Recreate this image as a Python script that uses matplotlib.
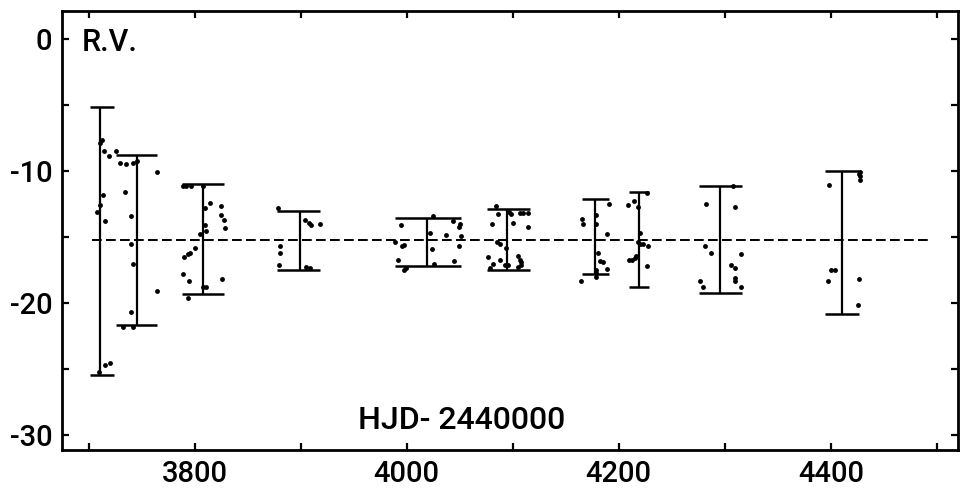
import matplotlib
matplotlib.use("Agg")
import matplotlib.pyplot as plt
from matplotlib.ticker import MultipleLocator

plt.rcParams['font.family'] = ['Roboto', 'DejaVu Sans']
plt.rcParams['font.weight'] = 'medium'
plt.rcParams['axes.unicode_minus'] = False

# error bars (time, top, bottom, cap extent)
bar_t = [3711, 3745.6, 3808, 3899, 4019.5, 4094.7, 4178, 4219, 4295.3, 4411]
bar_top = [-5.13, -8.79, -11.0, -13.03, -13.58, -12.88, -12.12, -11.57, -11.14, -10.0]
bar_bot = [-25.45, -21.67, -19.27, -17.5, -17.2, -17.45, -17.8, -18.79, -19.2, -20.83]
cap_left = [3701, 3726, 3788, 3878, 3989, 4075.5, 4165, 4209.4, 4275.5, 4395]
cap_right = [3724.5, 3765, 3828, 3918, 4051, 4116, 4190.5, 4228.3, 4316, 4426.4]

# individual radial velocity measurements
dot_t = [
    3710.4, 3712.6, 3715, 3719, 3725.5, 3730, 3735, 3742, 3746, 3765, 3734.6, 3713.5,
    3710.4, 3707.8, 3740, 3716, 3740, 3741.8, 3765, 3740, 3732.4, 3741.8, 3716, 3720, 3710,
    3789, 3792, 3797, 3808, 3815, 3810, 3825, 3824.5, 3828, 3829, 3810, 3811, 3804.7,
    3800.6, 3796, 3793.7, 3790, 3789, 3795, 3825.8, 3808, 3811, 3794,
    3879, 3904, 3909.6, 3907.5, 3918.6, 3881, 3881, 3880, 3905, 3908.5,
    3995, 4024.8, 4043.7, 4050, 4049, 4021.7, 4037.4, 4051, 3988.7, 3998, 3996, 4024,
    4049, 3991.8, 4025.8, 4044.6, 3997.5, 3999.7,
    4084.6, 4086, 4097, 4098.8, 4106.6, 4109.7, 4114.5, 4080.5, 4100, 4114.5, 4085.5,
    4087.7, 4094, 4076.7, 4087.7, 4105, 4106.6, 4108, 4081.4, 4093, 4096, 4079, 4105, 4108,
    4190.9, 4179, 4165.8, 4166.4, 4179, 4189, 4180.5, 4182, 4185.6, 4189, 4179, 4178.3,
    4179, 4164.8,
    4226.7, 4208.8, 4214, 4218, 4219.8, 4218, 4220, 4223, 4227.7, 4216.7, 4215, 4209.7,
    4213, 4226.7,
    4308, 4282, 4310, 4281, 4287.4, 4315.7, 4306.3, 4310, 4309.4, 4310, 4276.4, 4279.5, 4315.7,
    4427.4, 4427.4, 4427.4, 4427, 4398, 4400.6, 4404.4, 4397, 4426.4, 4425.8,
]
dot_v = [
    -7.9, -7.65, -8.48, -8.84, -8.46, -9.37, -9.47, -9.37, -9.24, -10.05, -11.57, -11.8,
    -12.6, -13.1, -13.4, -13.8, -15.5, -17.0, -19.1, -20.7, -21.8, -21.8, -24.7, -24.5, -25.2,
    -11.1, -11.1, -11.1, -11.1, -12.4, -12.8, -12.65, -13.3, -13.7, -14.3, -14.1, -14.5, -14.8,
    -15.8, -16.2, -16.3, -16.5, -17.8, -18.3, -18.2, -18.75, -18.75, -19.6,
    -12.8, -13.7, -14.1, -13.9, -14.0, -15.7, -16.2, -17.1, -17.25, -17.3,
    -14.1, -13.4, -13.8, -14.0, -14.2, -14.7, -14.85, -14.9, -15.4, -15.6, -15.7, -15.9,
    -15.7, -16.7, -17.0, -16.8, -17.45, -17.3,
    -12.65, -13.25, -13.1, -13.25, -13.15, -13.15, -13.15, -14.0, -13.9, -14.2, -15.4,
    -15.5, -15.85, -16.5, -16.7, -16.4, -16.75, -16.9, -17.0, -17.1, -17.1, -17.3, -17.25, -17.1,
    -12.5, -13.3, -13.65, -14.0, -14.0, -14.8, -16.2, -16.8, -16.9, -17.4, -17.45, -17.75,
    -18.0, -18.3,
    -11.7, -12.6, -12.3, -12.7, -14.7, -15.35, -15.5, -15.5, -15.7, -16.4, -16.55, -16.7,
    -16.7, -17.2,
    -11.1, -12.5, -12.7, -15.7, -16.2, -16.3, -17.1, -17.3, -18.1, -18.3, -18.3, -18.8, -18.75,
    -10.05, -10.4, -10.7, -10.25, -11.06, -17.45, -17.5, -18.3, -18.2, -20.1,
]

mean_rv = -15.2
mean_span = [3703, 4492]

x_major = [3800, 4000, 4200, 4400]
y_major = [0, -10, -20, -30]

fig = plt.figure(figsize=(9.61, 4.88), dpi=100)
ax = fig.add_axes([62 / 961, 38 / 488, 896 / 961, 439 / 488])

ax.vlines(bar_t, bar_bot, bar_top, color='black', lw=1.6)
ax.hlines(bar_top, cap_left, cap_right, color='black', lw=1.8)
ax.hlines(bar_bot, cap_left, cap_right, color='black', lw=1.8)
ax.plot(dot_t, dot_v, 'o', color='black', markersize=3.5, markeredgewidth=0)
ax.plot(mean_span, [mean_rv, mean_rv], color='black', lw=1.4, linestyle=(0, (5, 2.2)))

ax.set_xlim(3675, 4520)
ax.set_ylim(-31.1, 2.1)
ax.set_xticks(x_major)
ax.set_yticks(y_major)
ax.xaxis.set_minor_locator(MultipleLocator(100))
ax.yaxis.set_minor_locator(MultipleLocator(5))
ax.tick_params(which='both', direction='in', top=True, right=True, length=5, width=1.6,
               labelsize=21, pad=7, colors='black')
for lab in ax.get_xticklabels() + ax.get_yticklabels():
    lab.set_fontweight('medium')

for s in ax.spines.values():
    s.set_linewidth(2.0)

ax.text(0.022, 0.929, 'R.V.', transform=ax.transAxes, fontsize=22, va='center', ha='left',
        fontweight='medium')
ax.text(0.330, 0.068, 'HJD- 2440000', transform=ax.transAxes, fontsize=23, va='center',
        ha='left', fontweight='medium')

fig.savefig('out.png', dpi=100)
